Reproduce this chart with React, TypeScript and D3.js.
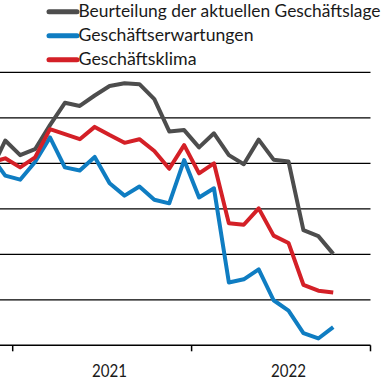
import { useEffect, useRef } from 'react';
import * as d3 from 'd3';

// monthly values, Nov 2020 .. Oct 2022
const months = [
    '2020-11', '2020-12',
    '2021-01', '2021-02', '2021-03', '2021-04', '2021-05', '2021-06',
    '2021-07', '2021-08', '2021-09', '2021-10', '2021-11', '2021-12',
    '2022-01', '2022-02', '2022-03', '2022-04', '2022-05', '2022-06',
    '2022-07', '2022-08', '2022-09', '2022-10',
];
const lage = [-1.9, 5.0, 1.8, 3.1, 8.4, 13.3, 12.6, 14.9, 17.0, 17.6, 17.4, 14.1, 7.0, 7.3, 3.5, 6.6, 1.8, -0.2, 5.2, 0.8, 0.4, -14.7, -16.0, -19.9];
const erwartungen = [1.8, -2.7, -3.6, 0.3, 5.7, -0.9, -1.6, 1.4, -4.4, -7.1, -5.1, -8.0, -8.8, 0.7, -7.5, -5.5, -26.2, -25.5, -23.3, -30.1, -32.4, -37.3, -38.5, -36.0];
const klima = [0.1, 1.1, -0.9, 1.3, 7.5, 6.4, 5.3, 8.0, 6.2, 4.5, 5.3, 2.7, -1.2, 4.0, -2.2, 0.0, -13.2, -13.5, -9.9, -15.9, -17.5, -26.7, -28.0, -28.4];

const gridValues = [20, 10, 0, -10, -20, -30];
const yearTicks = [2021, 2022, 2023];
const yearLabels = ['2021', '2022'];

const series = [
    { name: 'Beurteilung der aktuellen Geschäftslage', values: lage, color: '#4d4d4d', len: 302 },
    { name: 'Geschäftserwartungen', values: erwartungen, color: '#0f7dc2', len: 175 },
    { name: 'Geschäftsklima', values: klima, color: '#d42027', len: 118 },
];

const W = 391;
const H = 391;

function monthIndex(m: string) {
    const [y, mo] = m.split('-').map(Number);
    return (y - 2021) * 12 + (mo - 1);
}

export default function App() {
    const svgRef = useRef<SVGSVGElement>(null);

    useEffect(() => {
        if (!svgRef.current) return;
        const svg = d3.select(svgRef.current);
        svg.selectAll('*').remove();

        const x = d3.scaleLinear().domain([0, 24]).range([12.7, 370.5]);
        const y = d3.scaleLinear().domain([-40, 20]).range([345.3, 72.3]);
        const right = x(24);

        svg.append('defs').append('clipPath').attr('id', 'plot-clip')
            .append('rect').attr('x', 0).attr('y', 0).attr('width', right).attr('height', H);

        // grid
        svg.append('g').selectAll('line').data(gridValues).join('line')
            .attr('x1', 0).attr('x2', right)
            .attr('y1', d => y(d)).attr('y2', d => y(d))
            .attr('stroke', '#000').attr('stroke-width', 1.3);

        // axis
        const axisY = y(-40);
        svg.append('line').attr('x1', 0).attr('x2', right).attr('y1', axisY).attr('y2', axisY)
            .attr('stroke', '#000').attr('stroke-width', 1.5);
        svg.append('g').selectAll('line').data(yearTicks).join('line')
            .attr('x1', d => x((d - 2021) * 12)).attr('x2', d => x((d - 2021) * 12))
            .attr('y1', axisY).attr('y2', axisY + 6)
            .attr('stroke', '#000').attr('stroke-width', 1.5);
        svg.append('g').selectAll('text').data(yearLabels).join('text')
            .attr('x', (d, i) => x(i * 12 + 6.5))
            .attr('y', 377)
            .attr('text-anchor', 'middle')
            .attr('font-family', 'Lato, sans-serif')
            .attr('font-size', 18)
            .attr('fill', '#1a1a1a')
            .attr('textLength', 35)
            .attr('lengthAdjust', 'spacingAndGlyphs')
            .text(d => d);

        const line = d3.line<number>()
            .x((_, i) => x(monthIndex(months[i]) + 0.5))
            .y(d => y(d));

        const g = svg.append('g').attr('clip-path', 'url(#plot-clip)');
        series.forEach(s => {
            g.append('path')
                .datum(s.values)
                .attr('d', line)
                .attr('fill', 'none')
                .attr('stroke', s.color)
                .attr('stroke-width', 4)
                .attr('stroke-linejoin', 'round');
        });

        // legend
        const legend = svg.append('g');
        series.forEach((s, i) => {
            const ly = 11.7 + i * 24;
            legend.append('line')
                .attr('x1', 49).attr('x2', 77).attr('y1', ly).attr('y2', ly)
                .attr('stroke', s.color).attr('stroke-width', 5).attr('stroke-linecap', 'round');
            legend.append('text')
                .attr('x', 78.5).attr('y', ly + 5.5)
                .attr('font-family', 'Lato, sans-serif')
                .attr('font-size', 18)
                .attr('fill', '#1a1a1a')
                .attr('textLength', s.len)
                .attr('lengthAdjust', 'spacingAndGlyphs')
                .text(s.name);
        });
    }, []);

    return (
        <svg ref={svgRef} width={W} height={H}
            style={{ position: 'absolute', left: 0, top: 0, background: '#fff' }}></svg>
    );
}
